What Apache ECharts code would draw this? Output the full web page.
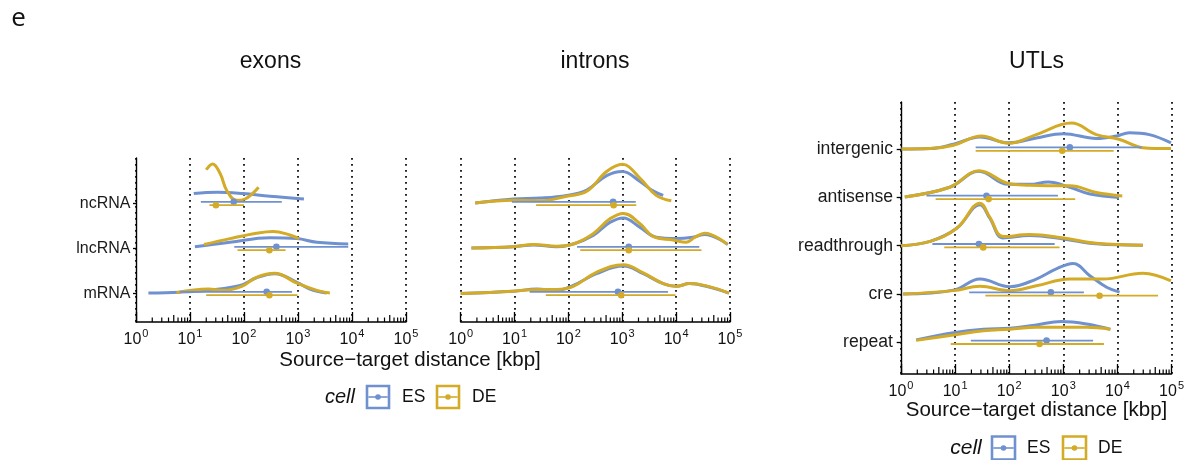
<!DOCTYPE html>
<html>
<head>
<meta charset="utf-8">
<script src="https://cdn.jsdelivr.net/npm/echarts@6/dist/echarts.min.js"></script>
<style>
  html, body { margin: 0; background: #fff; }
  #chart { width: 1187px; height: 460px; }
</style>
</head>
<body>
<div id="chart"></div>
<script>
// distances are log10(kbp); density heights are in row units
const exonRows = ['mRNA', 'lncRNA', 'ncRNA'];
const exonDensES = [
  [[0.23,0.01],[0.81,0.03],[1.37,0.08],[1.93,0.18],[2.23,0.35],[2.57,0.44],[2.98,0.25],[3.22,0.10],[3.53,0.01]],
  [[1.09,0.04],[1.74,0.14],[2.48,0.24],[2.98,0.22],[3.35,0.14],[3.93,0.10]],
  [[1.07,0.22],[1.5,0.25],[1.98,0.22],[2.48,0.16],[3.11,0.10]]
];
const exonDensDE = [
  [[0.75,0.02],[1.34,0.10],[1.62,0.07],[1.96,0.16],[2.23,0.36],[2.57,0.45],[2.98,0.23],[3.35,0.07],[3.59,0.01]],
  [[1.26,0.09],[1.74,0.22],[2.23,0.34],[2.54,0.38],[2.85,0.30],[3.02,0.22]],
  [[1.30,0.75],[1.42,0.88],[1.56,0.66],[1.68,0.29],[1.86,0.07],[2.02,0.10],[2.27,0.36]]
];
const exonRangeES = [[0.81,2.42,2.89],[1.82,2.60,3.93],[1.20,1.81,2.70]];
const exonRangeDE = [[1.30,2.47,2.99],[1.88,2.47,2.77],[1.36,1.48,2.00]];

const intronRows = ['mRNA', 'lncRNA', 'ncRNA'];
const intronDensES = [
  [[0,0],[0.98,0.05],[1.41,0.10],[1.78,0.07],[2.09,0.18],[2.52,0.44],[3.02,0.61],[3.39,0.44],[3.76,0.22],[4.0,0.16],[4.25,0.22],[4.56,0.16],[4.98,0.01]],
  [[0.2,0.01],[0.98,0.04],[1.35,0.08],[1.78,0.04],[2.09,0.10],[2.46,0.29],[2.77,0.58],[3.02,0.68],[3.33,0.47],[3.63,0.25],[4.0,0.22],[4.31,0.25],[4.53,0.31],[4.96,0.09]],
  [[0.27,0.01],[0.98,0.10],[1.47,0.12],[1.97,0.18],[2.34,0.30],[2.71,0.62],[3.0,0.71],[3.33,0.49],[3.57,0.28],[3.76,0.18]]
];
const intronDensDE = [
  [[0,0],[0.98,0.05],[1.41,0.09],[1.78,0.09],[2.09,0.16],[2.52,0.47],[3.02,0.64],[3.39,0.46],[3.76,0.22],[4.0,0.16],[4.25,0.22],[4.56,0.17],[4.98,0.01]],
  [[0.2,0.01],[0.98,0.04],[1.35,0.09],[1.78,0.05],[2.09,0.10],[2.46,0.33],[2.77,0.66],[3.02,0.78],[3.33,0.55],[3.57,0.27],[3.94,0.19],[4.19,0.14],[4.35,0.25],[4.53,0.34],[4.95,0.09]],
  [[0.27,0.01],[0.98,0.07],[1.47,0.06],[1.97,0.16],[2.34,0.27],[2.71,0.71],[3.0,0.87],[3.33,0.56],[3.63,0.18],[3.91,0.06]]
];
const intronRangeES = [[1.28,2.92,3.85],[2.16,3.12,4.43],[0.95,2.83,3.25]];
const intronRangeDE = [[1.58,2.98,3.99],[2.22,3.12,4.47],[1.40,2.84,3.26]];

const utlRows = ['repeat', 'cre', 'readthrough', 'antisense', 'intergenic'];
const utlDensES = [
  [[0.28,0.05],[0.97,0.20],[1.52,0.27],[2.01,0.29],[2.5,0.36],[2.96,0.43],[3.43,0.38],[3.87,0.27]],
  [[0.04,0],[0.97,0.08],[1.46,0.31],[2.01,0.15],[2.5,0.31],[2.87,0.52],[3.18,0.63],[3.49,0.38],[3.8,0.14],[4.04,0.04]],
  [[0,0],[0.54,0.09],[1.03,0.36],[1.46,0.85],[1.64,0.57],[1.89,0.16],[2.38,0.21],[3.0,0.14],[3.61,0.04],[4.47,0.01]],
  [[0.07,0.01],[0.9,0.21],[1.44,0.54],[1.98,0.27],[2.38,0.27],[2.72,0.32],[3.12,0.21],[3.49,0.07],[4.03,0]],
  [[0.01,0],[0.54,0.01],[0.97,0.10],[1.46,0.25],[1.98,0.13],[2.5,0.23],[3.0,0.32],[3.61,0.22],[3.98,0.27],[4.22,0.34],[4.59,0.30],[4.99,0.13]]
];
const utlDensDE = [
  [[0.28,0.04],[0.97,0.15],[1.52,0.24],[2.01,0.27],[2.5,0.31],[2.96,0.31],[3.43,0.31],[3.87,0.27]],
  [[0.04,0],[0.97,0.07],[1.46,0.16],[2.01,0.07],[2.5,0.17],[3.12,0.31],[3.73,0.31],[4.47,0.43],[4.99,0.27]],
  [[0,0],[0.54,0.09],[1.03,0.36],[1.46,0.88],[1.64,0.59],[1.89,0.19],[2.38,0.23],[3.0,0.16],[3.61,0.05],[4.47,0.01]],
  [[0.07,0.01],[0.9,0.21],[1.44,0.55],[1.98,0.29],[2.38,0.25],[2.72,0.24],[3.12,0.24],[3.61,0.10],[4.09,0.03]],
  [[0.01,0],[0.54,0.01],[0.97,0.08],[1.49,0.27],[1.98,0.12],[2.5,0.30],[3.15,0.54],[3.61,0.30],[4.04,0.20],[4.47,0.03],[4.99,0.01]]
];
const utlRangeES = [[1.29,2.69,3.55],[1.26,2.77,3.38],[0.58,1.44,2.84],[0.47,1.58,2.90],[1.38,3.12,4.45]];
const utlRangeDE = [[0.92,2.56,3.75],[1.56,3.67,4.75],[0.80,1.52,2.93],[0.64,1.62,3.22],[1.38,2.98,3.93]];

const BLUE = '#6f91d0';
const GOLD = '#d3ab27';
const FONT = '"Liberation Sans", Arial, Helvetica, sans-serif';

const panels = [
  { rows: exonRows, densES: exonDensES, densDE: exonDensDE, rangeES: exonRangeES, rangeDE: exonRangeDE,
    grid: { left: 136, top: 158, width: 270, height: 164 }, yMin: -0.633, yMax: 3.011, showY: true,
    labelSize: 16, labelMargin: 5.5, tickLen: 3 },
  { rows: intronRows, densES: intronDensES, densDE: intronDensDE, rangeES: intronRangeES, rangeDE: intronRangeDE,
    grid: { left: 460.7, top: 158, width: 269.3, height: 164 }, yMin: -0.633, yMax: 3.011, showY: false,
    labelSize: 16, labelMargin: 5.5, tickLen: 3 },
  { rows: utlRows, densES: utlDensES, densDE: utlDensDE, rangeES: utlRangeES, rangeDE: utlRangeDE,
    grid: { left: 901, top: 102, width: 271, height: 272 }, yMin: -0.656, yMax: 4.975, showY: true,
    labelSize: 17.6, labelMargin: 8, tickLen: 4.3 }
];

const pow10 = v => Math.pow(10, v);

function logTicks(api, yMin) {
  const children = [];
  for (let d = 0; d < 5; d++) {
    for (let k = 2; k <= 9; k++) {
      const pt = api.coord([k * pow10(d), yMin]);
      const len = k === 5 ? 7 : 4.5;
      children.push({ type: 'line', shape: { x1: pt[0], y1: pt[1], x2: pt[0], y2: pt[1] - len },
        style: { stroke: '#000', lineWidth: 1.2 } });
    }
  }
  return { type: 'group', children };
}

function rangeRenderer(color, dy) {
  return (params, api) => {
    const r = api.value(3);
    const lo = api.coord([api.value(0), r]);
    const mid = api.coord([api.value(1), r]);
    const hi = api.coord([api.value(2), r]);
    return { type: 'group', children: [
      { type: 'line', shape: { x1: lo[0], y1: lo[1] + dy, x2: hi[0], y2: hi[1] + dy },
        style: { stroke: color, lineWidth: 1.8 } },
      { type: 'circle', shape: { cx: mid[0], cy: mid[1] + dy, r: 3.3 }, style: { fill: color } }
    ] };
  };
}

const grids = [], xAxes = [], yAxes = [], series = [];
panels.forEach((p, i) => {
  grids.push(p.grid);
  const idx = p.rows.map((_, r) => r);
  xAxes.push({
    gridIndex: i, type: 'log', logBase: 10, min: 1, max: 100000,
    axisLine: { onZero: false, lineStyle: { color: '#000', width: 1.5 } },
    axisTick: { inside: true, length: 10, lineStyle: { color: '#000', width: 1.3 } },
    minorTick: { show: false },
    splitLine: { show: true, lineStyle: { color: '#000', width: 1.7, type: [1.7, 4.3] } },
    axisLabel: {
      margin: 6, color: '#111', fontFamily: FONT,
      formatter: v => '{b|10}{s|' + Math.round(Math.log10(v)) + '}',
      rich: {
        b: { fontSize: 16, lineHeight: 20, fontFamily: FONT, color: '#111', verticalAlign: 'bottom' },
        s: { fontSize: 11, lineHeight: 20, fontFamily: FONT, color: '#111', verticalAlign: 'top', padding: [0, 0, 0, 1] }
      }
    }
  });
  yAxes.push({
    gridIndex: i, type: 'value', min: p.yMin, max: p.yMax,
    splitLine: { show: false },
    axisLine: { show: p.showY, onZero: false, lineStyle: { color: '#000', width: 1.4 } },
    axisTick: { show: p.showY, customValues: idx, length: p.tickLen, lineStyle: { color: '#000', width: 1.3 } },
    axisLabel: { show: p.showY, customValues: idx, formatter: v => p.rows[Math.round(v)],
      fontSize: p.labelSize, fontFamily: FONT, color: '#1a1a1a', margin: p.labelMargin }
  });

  series.push({ type: 'custom', xAxisIndex: i, yAxisIndex: i, silent: true, clip: false, z: 1,
    data: [[1, p.yMin]], renderItem: (params, api) => logTicks(api, p.yMin) });

  [[p.densES, BLUE], [p.densDE, GOLD]].forEach(([dens, color]) => {
    dens.forEach((curve, r) => {
      series.push({
        type: 'line', xAxisIndex: i, yAxisIndex: i, smooth: 0.4, showSymbol: false, silent: true, z: 2,
        lineStyle: { color, width: 3 },
        data: curve.map(d => [pow10(d[0]), r + d[1]])
      });
    });
  });

  [[p.rangeES, BLUE, -1.7], [p.rangeDE, GOLD, 1.7]].forEach(([ranges, color, dy]) => {
    series.push({
      type: 'custom', xAxisIndex: i, yAxisIndex: i, silent: true, clip: false, z: 3,
      encode: { x: [0, 1, 2], y: 3 },
      data: ranges.map((v, r) => [pow10(v[0]), pow10(v[1]), pow10(v[2]), r]),
      renderItem: rangeRenderer(color, dy)
    });
  });
});

function txt(x, y, text, size) {
  return { type: 'text', x, y, silent: true,
    style: { text, fill: '#111', font: size + 'px ' + FONT, textAlign: 'center', textVerticalAlign: 'middle',
      align: 'center', verticalAlign: 'middle' } };
}

function leftText(x, y, text, size) {
  const t = txt(x, y, text, size);
  t.style.textAlign = 'left'; t.style.align = 'left';
  return t;
}

function italic(x, y, text, size) {
  const t = txt(x, y, text, size);
  t.style.font = 'italic ' + size + 'px ' + FONT;
  return t;
}

function legendKey(x, yc, size, color) {
  return { type: 'group', silent: true, children: [
    { type: 'rect', shape: { x, y: yc - size / 2, width: size, height: size },
      style: { fill: '#fff', stroke: color, lineWidth: 2.6 } },
    { type: 'line', shape: { x1: x + 1.3, y1: yc, x2: x + size - 1.3, y2: yc }, style: { stroke: color, lineWidth: 1.6 } },
    { type: 'circle', shape: { cx: x + size / 2, cy: yc, r: 2.8 }, style: { fill: color } }
  ] };
}

const panelLabel = txt(18.5, 19, 'e', 26);
panelLabel.style.font = '26px "Open Sans", "Noto Sans", sans-serif';

const graphics = [
  panelLabel,
  txt(270.5, 62, 'exons', 23),
  txt(595, 62, 'introns', 23),
  txt(1036.5, 62, 'UTLs', 23),
  txt(410, 360, 'Source\u2212target distance [kbp]', 20.5),
  txt(1036.5, 410, 'Source\u2212target distance [kbp]', 20.5),
  italic(340, 397, 'cell', 20),
  legendKey(367, 397, 22, BLUE),
  leftText(402, 397, 'ES', 17.5),
  legendKey(437, 397, 22, GOLD),
  leftText(472, 397, 'DE', 17.5),
  italic(966, 448, 'cell', 21),
  legendKey(992, 448, 23, BLUE),
  leftText(1027, 448, 'ES', 17.5),
  legendKey(1063, 448, 23, GOLD),
  leftText(1098, 448, 'DE', 17.5)
];

const chart = echarts.init(document.getElementById('chart'));
chart.setOption({
  animation: false,
  backgroundColor: '#fff',
  grid: grids,
  xAxis: xAxes,
  yAxis: yAxes,
  series,
  graphic: graphics
});
</script>
</body>
</html>
